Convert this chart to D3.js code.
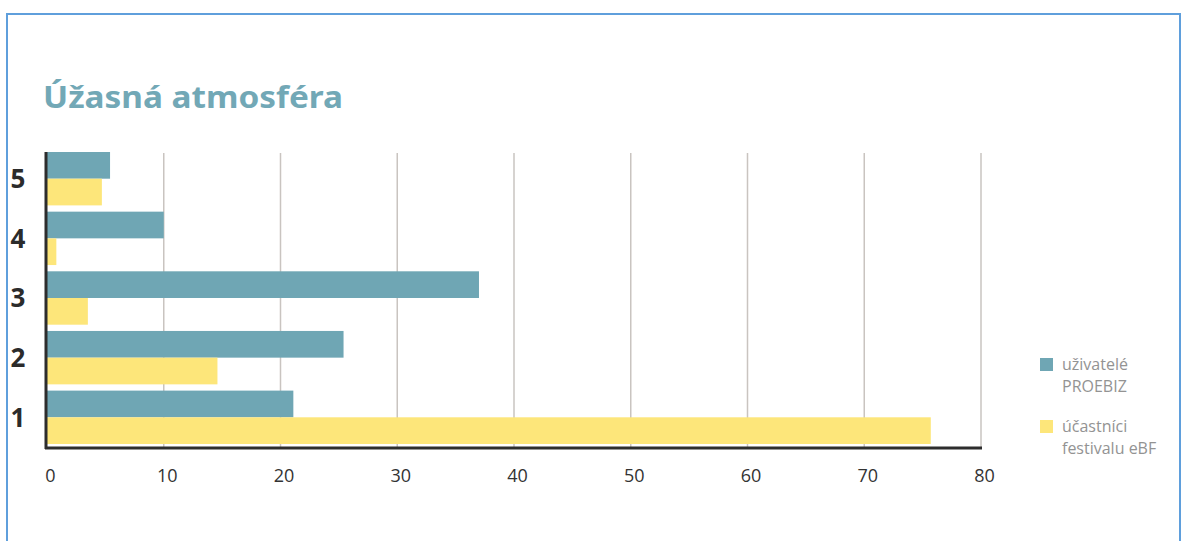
<!DOCTYPE html>
<html>
<head>
<meta charset="utf-8">
<script src="https://cdn.jsdelivr.net/npm/d3@7"></script>
<style>
  body { margin: 0; background: #fff; }
  svg { display: block; }
</style>
</head>
<body>
<div id="chart"></div>
<script>
// categories (ratings) and series values
var categories = ["5", "4", "3", "2", "1"];
var seriesNames = ["uživatelé PROEBIZ", "účastníci festivalu eBF"];
var proebiz = [5.4, 10.0, 37.0, 25.4, 21.1];
var festival = [4.7, 0.8, 3.5, 14.6, 75.7];
var xTicks = [0, 10, 20, 30, 40, 50, 60, 70, 80];

var svgWidth = 1187;
var svgHeight = 541;

var colors = ["#6fa6b4", "#fde67a"];
var font = "'Open Sans', Lato, sans-serif";
var boldFont = "'Noto Sans', 'DejaVu Sans', sans-serif";

var svg = d3.select("#chart")
  .append("svg")
  .attr("width", svgWidth)
  .attr("height", svgHeight);

// outer frame
svg.append("rect")
  .attr("x", 7)
  .attr("y", 14)
  .attr("width", 1173)
  .attr("height", 560)
  .attr("fill", "none")
  .attr("stroke", "#5f9fdc")
  .attr("stroke-width", 2);

// title
svg.append("text")
  .attr("x", 43)
  .attr("y", 108)
  .attr("fill", "#72a8b6")
  .attr("font-family", boldFont)
  .attr("font-weight", "bold")
  .attr("font-size", "30px")
  .attr("textLength", 300)
  .attr("lengthAdjust", "spacingAndGlyphs")
  .text("Úžasná atmosféra");

// scales
var xScale = d3.scaleLinear()
  .domain([0, 80])
  .range([47, 981]);

var yScale = d3.scaleBand()
  .domain(categories)
  .range([152, 444])
  .paddingInner(0.105)
  .paddingOuter(0);

var subScale = d3.scaleBand()
  .domain([0, 1])
  .range([0, yScale.bandwidth()]);

// gridlines
svg.append("g")
  .selectAll("line")
  .data(xTicks.slice(1))
  .enter()
  .append("line")
  .attr("x1", d => xScale(d))
  .attr("x2", d => xScale(d))
  .attr("y1", 153)
  .attr("y2", 448)
  .attr("stroke", "#c9c4c0")
  .attr("stroke-width", 1.5);

// bars
var rows = categories.map(function(c, i) {
  return { cat: c, values: [proebiz[i], festival[i]] };
});

var groups = svg.append("g")
  .selectAll("g")
  .data(rows)
  .enter()
  .append("g")
  .attr("transform", d => `translate(0, ${yScale(d.cat)})`);

groups.selectAll("rect")
  .data(d => d.values.map((v, j) => ({ v: v, s: j })))
  .enter()
  .append("rect")
  .attr("x", xScale(0))
  .attr("y", d => subScale(d.s))
  .attr("width", d => xScale(d.v) - xScale(0))
  .attr("height", subScale.bandwidth())
  .attr("fill", d => colors[d.s]);

// axes
var bottomAxis = d3.axisBottom(xScale)
  .tickValues(xTicks)
  .tickSize(0)
  .tickPadding(0);

var xAxis = svg.append("g")
  .attr("transform", "translate(0, 448)")
  .call(bottomAxis);

xAxis.select(".domain")
  .attr("d", "M45,0H982")
  .attr("stroke", "#2d2d2d")
  .attr("stroke-width", 3);

xAxis.selectAll(".tick text")
  .attr("dx", 3)
  .attr("y", 34)
  .attr("dy", 0)
  .attr("fill", "#333")
  .attr("font-family", font)
  .attr("font-size", "18px");

var leftAxis = d3.axisLeft(yScale)
  .tickSize(0)
  .tickPadding(0);

var yAxis = svg.append("g")
  .attr("transform", "translate(46, 0)")
  .call(leftAxis);

yAxis.select(".domain")
  .attr("d", "M0,152V449")
  .attr("stroke", "#2d2d2d")
  .attr("stroke-width", 3);

yAxis.selectAll(".tick text")
  .attr("x", -28)
  .attr("dy", "0.36em")
  .attr("text-anchor", "middle")
  .attr("fill", "#2b2b2b")
  .attr("font-family", boldFont)
  .attr("font-weight", "bold")
  .attr("font-size", "26px");

// legend
var legendLines = [["uživatelé", "PROEBIZ"], ["účastníci", "festivalu eBF"]];

var legend = svg.append("g")
  .selectAll("g")
  .data(seriesNames)
  .enter()
  .append("g")
  .attr("transform", (d, i) => `translate(1040, ${358 + i * 62})`);

legend.append("rect")
  .attr("width", 13)
  .attr("height", 13)
  .attr("fill", (d, i) => colors[i]);

legend.append("text")
  .attr("x", 22)
  .attr("y", 12)
  .attr("fill", "#939393")
  .attr("font-family", font)
  .attr("font-size", "16px")
  .selectAll("tspan")
  .data((d, i) => legendLines[i])
  .enter()
  .append("tspan")
  .attr("x", 22)
  .attr("dy", (d, k) => k === 0 ? 0 : 22)
  .text(d => d);
</script>
</body>
</html>
